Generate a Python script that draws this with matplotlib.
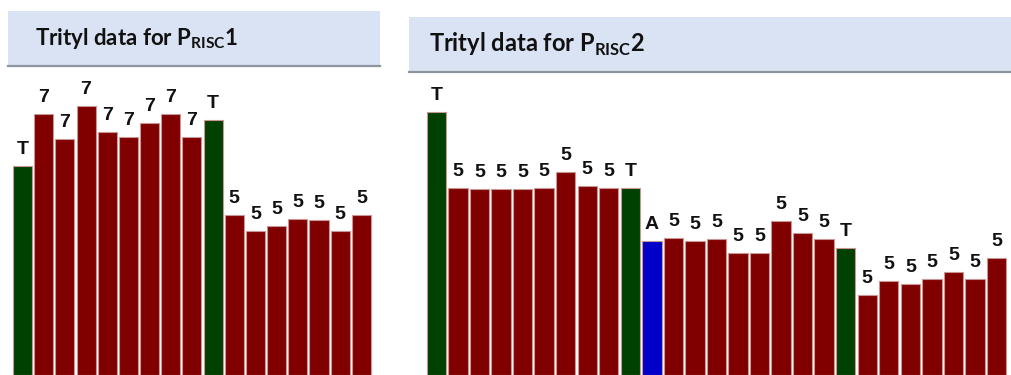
import matplotlib.pyplot as plt
from matplotlib.patches import Rectangle

plt.rcParams['mathtext.fontset'] = 'custom'
plt.rcParams['mathtext.rm'] = 'Lato:bold'

# trityl readings, one per coupling step
labels1 = ['T', '7', '7', '7', '7', '7', '7', '7', '7', 'T',
           '5', '5', '5', '5', '5', '5', '5']
trityl1 = [209, 261, 236, 269, 243, 238, 252, 261, 238, 255,
           160, 144, 149, 156, 155, 144, 160]

labels2 = ['T', '5', '5', '5', '5', '5', '5', '5', '5', 'T',
           'A', '5', '5', '5', '5', '5', '5', '5', '5', 'T',
           '5', '5', '5', '5', '5', '5', '5']
trityl2 = [263, 187, 186, 186, 186, 187, 203, 189, 187, 187,
           134, 137, 134, 136, 122, 122, 154, 142, 136, 127,
           80, 94, 91, 96, 103, 96, 117]

base_colors = {'T': '#004000', 'A': '#0000c8'}
W, H = 1012, 375

fig = plt.figure(figsize=(W / 100, H / 100), dpi=100)


def panel(x0, x1, head_top, head_bot, labels, values, title, title_x, title_size,
          xlim, ylim_top):
    # header strip
    fig.patches.append(Rectangle((x0 / W, 1 - head_bot / H), (x1 - x0) / W,
                                 (head_bot - head_top) / H, transform=fig.transFigure,
                                 facecolor='#dae3f3', edgecolor='none', zorder=0))
    fig.add_artist(plt.Line2D([x0 / W, x1 / W], [1 - head_bot / H] * 2,
                              transform=fig.transFigure, color='#8c959e', lw=1.6))
    fig.text(title_x / W, 1 - (head_top + head_bot) / 2 / H, title,
             fontsize=title_size, va='center', ha='left', color='#111111',
             family='Lato', fontweight='bold')

    ax = fig.add_axes([x0 / W, 0, (x1 - x0) / W, (H - head_bot - 1) / H])
    ax.set_facecolor('#f0f0f0')
    colors = [base_colors.get(l, '#800000') for l in labels]
    xs = range(len(values))
    ax.bar(xs, values, width=0.9, color=colors, edgecolor='#c99595', linewidth=0.8)
    for x, v, l in zip(xs, values, labels):
        ax.text(x, v + 8, l, ha='center', va='bottom', fontsize=14,
                fontweight='bold', family='Liberation Sans', color='#111111')
    ax.set_xlim(*xlim)
    ax.set_ylim(0, ylim_top)
    ax.axis('off')
    ax.patch.set_visible(True)


panel(8, 380, 11, 66, labels1, trityl1,
      'Trityl data for P$_\\mathrm{RISC}$1', 35, 16, (-0.686, 16.88), 308)
panel(409, 1012, 17, 72, labels2, trityl2,
      'Trityl data for P$_\\mathrm{RISC}$2', 429, 17, (-1.272, 26.72), 302)

fig.savefig('out.png', dpi=100)
